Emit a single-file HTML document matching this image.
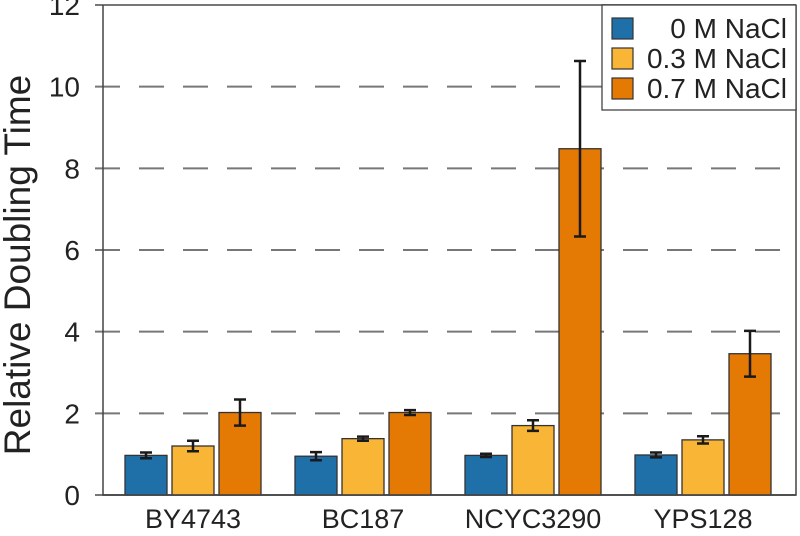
<!DOCTYPE html>
<html><head><meta charset="utf-8"><style>
body{margin:0;background:#fff;width:800px;height:531px;overflow:hidden}
svg text{font-family:"Liberation Sans",Arial,sans-serif;fill:#222}
</style></head><body>
<svg id="chart" width="800" height="531"></svg>
<script>
const categories=["BY4743","BC187","NCYC3290","YPS128"];
const seriesNames=["0 M NaCl","0.3 M NaCl","0.7 M NaCl"];
const s0=[0.97,0.95,0.97,0.98];
const s1=[1.2,1.38,1.7,1.35];
const s2=[2.02,2.02,8.48,3.46];
const e0=[0.07,0.1,0.04,0.06];
const e1=[0.13,0.05,0.13,0.09];
const e2=[0.32,0.06,2.15,0.56];
const yTicks=[0,2,4,6,8,10,12];
const colors=["#1f70a9","#f9b535","#e47904"];
const NS="http://www.w3.org/2000/svg";
const svg=document.getElementById('chart');
const X0=103,X1=796,Y0=495,Y1=5,YMAX=12;
const y=v=>Y0-(v/YMAX)*(Y0-Y1);
const groupCenter=i=>193+170*i;
const BW=42,STEP=47;
const barX=(i,s)=>groupCenter(i)+(s-1)*STEP-BW/2;
function mk(t,a){const e=document.createElementNS(NS,t);for(const k in a)e.setAttribute(k,a[k]);svg.appendChild(e);return e;}
yTicks.forEach(t=>{
  const g=mk('line',{x1:95,x2:X1,y1:y(t),y2:y(t),stroke:'#777','stroke-width':2,'stroke-dasharray':t===0||t===12?'none':'25,19','stroke-dashoffset':0});
  
  
  const tx=mk('text',{x:80,y:y(t)+10,'text-anchor':'end','font-size':28});
  tx.textContent=t;
  
  
});
const series=[s0,s1,s2],errs=[e0,e1,e2];
categories.forEach((c,i)=>{
  series.forEach((sv,s)=>{
    const r=mk('rect',{x:barX(i,s),y:y(sv[i]),width:BW,height:Y0-y(sv[i]),fill:colors[s],stroke:'#333','stroke-width':1.3});
    
    
    const cx=barX(i,s)+BW/2,hi=y(sv[i]+errs[s][i]),lo=y(sv[i]-errs[s][i]);
    const eb=mk('path',{d:`M${cx-6},${hi}H${cx+6}M${cx},${hi}V${lo}M${cx-6},${lo}H${cx+6}`,stroke:'#1a1a1a','stroke-width':2.5,fill:'none'});
    
    
  });
  const t=mk('text',{x:groupCenter(i),y:528,'text-anchor':'middle','font-size':27});
  t.textContent=c;
  
  
});
const ax=mk('path',{d:`M${X0},${Y1}V${Y0}H${X1}V${Y1}`,stroke:'#444','stroke-width':1.5,fill:'none'});


const yt=mk('text',{x:0,y:0,transform:'translate(30,265) rotate(-90)','text-anchor':'middle','font-size':37});
yt.textContent='Relative Doubling Time';


const lg=mk('rect',{x:602,y:5,width:194,height:105,fill:'#fff',stroke:'#444','stroke-width':1.3});


seriesNames.forEach((n,s)=>{
  const sw=mk('rect',{x:612,y:18+s*30,width:21,height:21,fill:colors[s],stroke:'#333','stroke-width':1.2});
  
  
  const t=mk('text',{x:787,y:38+s*30,'text-anchor':'end','font-size':28});
  t.textContent=n;
  
  
});
</script>
</body></html>
